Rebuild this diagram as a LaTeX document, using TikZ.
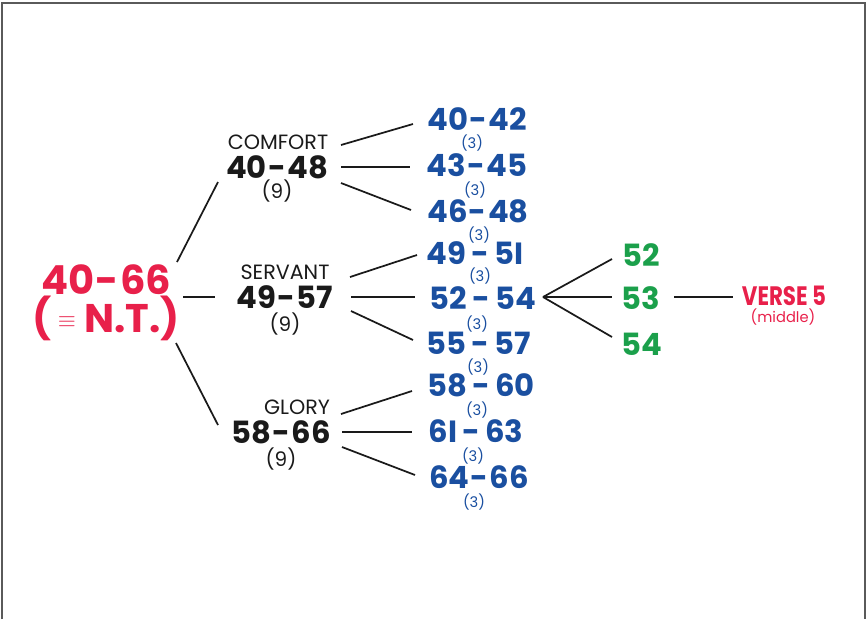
\documentclass[tikz,border=0pt]{standalone}
\usepackage{fontspec}
\setmainfont{Poppins}
\usepackage{graphicx}
\definecolor{myred}{HTML}{E8204A}
\definecolor{myblue}{HTML}{1A4FA0}
\definecolor{mygreen}{HTML}{1BA04B}
\definecolor{myblack}{HTML}{1A1A1A}
\definecolor{framegray}{HTML}{5A5A5A}
\newcommand{\hy}{\kern1pt-\kern1pt}
\newcommand{\hys}{\,-\,}
\begin{document}
\begin{tikzpicture}[x=0.75pt,y=-0.75pt,
  every node/.style={inner sep=0pt, anchor=center},
  rootnum/.style={font=\fontsize{30}{30}\selectfont\bfseries, text=myred},
  secname/.style={font=\fontsize{15.5}{15.5}\selectfont, text=myblack},
  secnum/.style={font=\fontsize{23}{23}\selectfont\bfseries, text=myblack},
  seccount/.style={font=\fontsize{15}{15}\selectfont, text=myblack},
  bluenum/.style={font=\fontsize{23}{23}\selectfont\bfseries, text=myblue},
  bluecount/.style={font=\fontsize{11}{11}\selectfont, text=myblue},
  greennum/.style={font=\fontsize{23}{23}\selectfont\bfseries, text=mygreen},
  conn/.style={draw=myblack, line width=1.3pt},
  frame/.style={draw=framegray, line width=1.5pt}
]
\useasboundingbox (0,0) rectangle (867,619);
\draw[frame] (2,619) -- (2,3) -- (865,3) -- (865,619);

% root
\node[rootnum] (r1) at (106,280) {40\hy66};
\node[rootnum] (r2) at (106,318) {(\,\raisebox{0.12em}{\scalebox{0.7}{$\mathbf{\equiv}$}}\ N.T.)};

% sections
\node[secname] (cn) at (278,142) {COMFORT};
\node[secnum] (c1) at (277,167) {40\hy48};
\node[seccount] (c2) at (277,191) {(9)};
\node[secname] (sn) at (285,272) {SERVANT};
\node[secnum] (s1) at (285,297) {49\hy57};
\node[seccount] (s2) at (285,324) {(9)};
\node[secname] (gn) at (297,407) {GLORY};
\node[secnum] (g1) at (281,432) {58\hy66};
\node[seccount] (g2) at (281,459) {(9)};

% blue
\node[bluenum] (b1) at (477,119) {40\hy42};
\node[bluecount] (b1c) at (472,143) {(3)};
\node[bluenum] (b2) at (477,165) {43\hy45};
\node[bluecount] (b2c) at (475,190) {(3)};
\node[bluenum] (b3) at (478,211) {46\hy48};
\node[bluecount] (b3c) at (479,235) {(3)};
\node[bluenum] (b4) at (475,253) {49\hys5I};
\node[bluecount] (b4c) at (480,276) {(3)};
\node[bluenum] (b5) at (483,298) {52\hys54};
\node[bluecount] (b5c) at (477,324) {(3)};
\node[bluenum] (b6) at (479,343) {55\hys57};
\node[bluecount] (b6c) at (478,367) {(3)};
\node[bluenum] (b7) at (481,385) {58\hys60};
\node[bluecount] (b7c) at (477,410) {(3)};
\node[bluenum] (b8) at (476,431) {6I\hys63};
\node[bluecount] (b8c) at (473,456) {(3)};
\node[bluenum] (b9) at (479,477) {64\hy66};
\node[bluecount] (b9c) at (474,502) {(3)};

% green
\node[greennum] (n52) at (641,255) {52};
\node[greennum] (n53) at (641,298) {53};
\node[greennum] (n54) at (642,344) {54};

% verse
\node[font=\fontsize{20}{20}\selectfont\bfseries, text=myred] (v) at (784,296) {\scalebox{0.8}[1]{VERSE 5}};
\node[font=\fontsize{11}{11}\selectfont, text=myred] (vm) at (783,317) {(middle)};

% connector end points
\coordinate (ra) at (177,262); \coordinate (ca) at (218,182);
\coordinate (rb) at (183,297); \coordinate (sb) at (215,297);
\coordinate (rc) at (176,343); \coordinate (gc) at (218,425);

\coordinate (c1a) at (341,145); \coordinate (b1a) at (413,124);
\coordinate (c1b) at (341,167); \coordinate (b2a) at (410,167);
\coordinate (c1c) at (341,183); \coordinate (b3a) at (411,210);

\coordinate (s1a) at (350,277); \coordinate (b4a) at (417,255);
\coordinate (s1b) at (351,297); \coordinate (b5a) at (415,297);
\coordinate (s1c) at (351,311); \coordinate (b6a) at (413,340);

\coordinate (g1a) at (341,414); \coordinate (b7a) at (412,391);
\coordinate (g1b) at (342,432); \coordinate (b8a) at (412,432);
\coordinate (g1c) at (342,447); \coordinate (b9a) at (415,475);

\coordinate (fan) at (543,297);
\coordinate (n52a) at (612,259);
\coordinate (n53a) at (612,297);
\coordinate (n54a) at (612,337);
\coordinate (n53b) at (674,297);
\coordinate (va) at (733,297);

\draw[conn] (ra) -- (ca);
\draw[conn] (rb) -- (sb);
\draw[conn] (rc) -- (gc);
\draw[conn] (c1a) -- (b1a);
\draw[conn] (c1b) -- (b2a);
\draw[conn] (c1c) -- (b3a);
\draw[conn] (s1a) -- (b4a);
\draw[conn] (s1b) -- (b5a);
\draw[conn] (s1c) -- (b6a);
\draw[conn] (g1a) -- (b7a);
\draw[conn] (g1b) -- (b8a);
\draw[conn] (g1c) -- (b9a);
\draw[conn] (fan) -- (n52a);
\draw[conn] (fan) -- (n53a);
\draw[conn] (fan) -- (n54a);
\draw[conn, line width=1pt] (n53b) -- (va);
\end{tikzpicture}
\end{document}
